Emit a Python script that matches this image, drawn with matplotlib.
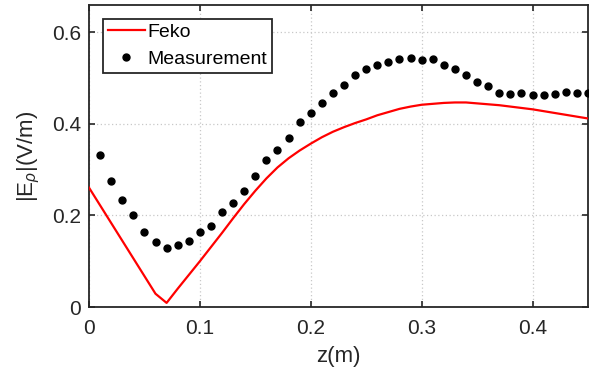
import matplotlib
matplotlib.use("Agg")
import matplotlib.pyplot as plt

plt.rcParams['font.family'] = ['Liberation Sans', 'DejaVu Sans']
plt.rcParams['mathtext.fontset'] = 'custom'
plt.rcParams['mathtext.rm'] = 'Liberation Sans'
plt.rcParams['mathtext.it'] = 'Liberation Sans:italic'

# Feko simulation
feko_z = [0.0, 0.06, 0.07, 0.08, 0.09, 0.10, 0.11, 0.12, 0.13, 0.14, 0.15,
          0.16, 0.17, 0.18, 0.19, 0.20, 0.21, 0.22, 0.23, 0.24, 0.25, 0.26,
          0.27, 0.28, 0.29, 0.30, 0.31, 0.32, 0.33, 0.34, 0.35, 0.36, 0.37,
          0.38, 0.39, 0.40, 0.41, 0.42, 0.43, 0.44, 0.45]
feko_v = [0.261, 0.029, 0.009, 0.040, 0.070, 0.100, 0.131, 0.162, 0.194, 0.225,
          0.254, 0.281, 0.305, 0.325, 0.342, 0.357, 0.371, 0.383, 0.393, 0.402,
          0.410, 0.419, 0.426, 0.433, 0.438, 0.442, 0.444, 0.446, 0.447, 0.447,
          0.445, 0.443, 0.441, 0.438, 0.435, 0.432, 0.428, 0.424, 0.420, 0.416,
          0.412]

# Measurement
meas_z = [0.01, 0.02, 0.03, 0.04, 0.05, 0.06, 0.07, 0.08, 0.09, 0.10,
          0.11, 0.12, 0.13, 0.14, 0.15, 0.16, 0.17, 0.18, 0.19, 0.20,
          0.21, 0.22, 0.23, 0.24, 0.25, 0.26, 0.27, 0.28, 0.29, 0.30,
          0.31, 0.32, 0.33, 0.34, 0.35, 0.36, 0.37, 0.38, 0.39, 0.40,
          0.41, 0.42, 0.43, 0.44, 0.45]
meas_v = [0.332, 0.275, 0.234, 0.202, 0.165, 0.141, 0.129, 0.136, 0.144, 0.165,
          0.178, 0.208, 0.227, 0.253, 0.287, 0.321, 0.343, 0.370, 0.404, 0.423,
          0.446, 0.468, 0.486, 0.506, 0.520, 0.528, 0.536, 0.543, 0.545, 0.540,
          0.542, 0.528, 0.520, 0.508, 0.492, 0.482, 0.468, 0.465, 0.468, 0.464,
          0.463, 0.465, 0.469, 0.467, 0.467]

xticks = [0, 0.1, 0.2, 0.3, 0.4]
xticklabels = ['0', '0.1', '0.2', '0.3', '0.4']
yticks = [0, 0.2, 0.4, 0.6]
yticklabels = ['0', '0.2', '0.4', '0.6']

fig = plt.figure(figsize=(5.9, 3.78), dpi=100)
ax = fig.add_axes([0.1508, 0.1878, 0.8458, 0.7990])

ax.plot(feko_z, feko_v, color='#ff0000', lw=1.6, label='Feko', zorder=3)
ax.plot(meas_z, meas_v, 'o', color='black', ms=5, ls='none', label='Measurement', zorder=4)

ax.set_xlim(0, 0.45)
ax.set_ylim(0, 0.66)
ax.set_xticks(xticks)
ax.set_xticklabels(xticklabels)
ax.set_yticks(yticks)
ax.set_yticklabels(yticklabels)

ax.grid(True, color='#c8c8c8', ls=(0, (1, 2)), lw=0.9)
ax.set_axisbelow(True)
for s in ax.spines.values():
    s.set_color('#262626')
    s.set_linewidth(1.3)
ax.tick_params(direction='in', length=4, width=1.2, colors='#262626',
               labelsize=15, labelcolor='#262626', top=True, right=True, pad=5.5)
ax.tick_params(axis='x', pad=8.5)

ax.set_xlabel('z(m)', fontsize=16, color='#262626', labelpad=6)
ax.set_ylabel(r'|E$_{\rho}$|(V/m)', fontsize=16, color='#262626')
ax.yaxis.set_label_coords(-0.094, 0.5)

leg = ax.legend(loc='upper left', fontsize=14, frameon=True, fancybox=False,
                edgecolor='#262626', framealpha=1, borderpad=0.26,
                handlelength=1.9, handletextpad=0.15, labelspacing=0.45,
                borderaxespad=0.7)
leg.get_frame().set_linewidth(1.3)

fig.savefig('out.png', dpi=100)
